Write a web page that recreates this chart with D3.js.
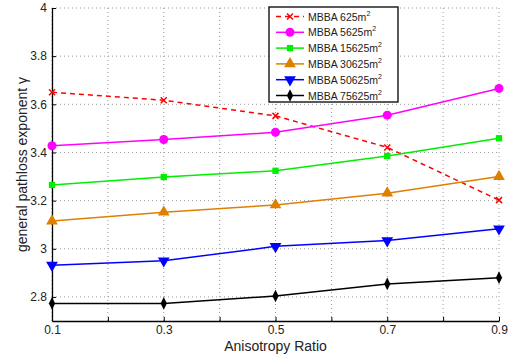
<!DOCTYPE html>
<html>
<head>
<meta charset="utf-8">
<script src="https://cdn.jsdelivr.net/npm/d3@7"></script>
<style>
  body { margin: 0; background: #fff; }
  text { font-family: "Liberation Sans", Arial, sans-serif; fill: #222; }
</style>
</head>
<body>
<div id="chart"></div>
<script>
// data
var ratios = [0.1, 0.3, 0.5, 0.7, 0.9];
var names = ["MBBA 625", "MBBA 5625", "MBBA 15625", "MBBA 30625", "MBBA 50625", "MBBA 75625"];
var mbba625 = [3.65, 3.617, 3.552, 3.421, 3.202];
var mbba5625 = [3.428, 3.454, 3.484, 3.555, 3.666];
var mbba15625 = [3.265, 3.298, 3.324, 3.385, 3.459];
var mbba30625 = [3.115, 3.152, 3.182, 3.231, 3.300];
var mbba50625 = [2.932, 2.950, 3.010, 3.034, 3.083];
var mbba75625 = [2.773, 2.773, 2.804, 2.854, 2.880];
var xTicks = [0.1, 0.3, 0.5, 0.7, 0.9];
var yTicks = [2.8, 3, 3.2, 3.4, 3.6, 3.8, 4];

var seriesList = [mbba625, mbba5625, mbba15625, mbba30625, mbba50625, mbba75625];
var colors = ["#ff0000", "#ff00ff", "#00ee00", "#dd8000", "#0000ff", "#000000"];
var shapes = ["x", "circle", "square", "up", "down", "diamond"];

var svgWidth = 512, svgHeight = 358;
var margin = {top: 8, right: 13, bottom: 37, left: 52};
var width = svgWidth - margin.left - margin.right;
var height = svgHeight - margin.top - margin.bottom;

var svg = d3.select("#chart").append("svg")
  .attr("width", svgWidth)
  .attr("height", svgHeight);

var chartGroup = svg.append("g")
  .attr("transform", `translate(${margin.left}, ${margin.top})`);

var xScale = d3.scaleLinear().domain([0.1, 0.9]).range([0, width]);
var yScale = d3.scaleLinear().domain([2.7, 4]).range([height, 0]);

// dotted grid
var gridX = d3.range(1, 10).map(d => d / 10);
chartGroup.selectAll(".gx").data(gridX).enter().append("line")
  .attr("x1", d => xScale(d)).attr("x2", d => xScale(d))
  .attr("y1", 0).attr("y2", height)
  .attr("stroke", "#999").attr("stroke-width", 1).attr("stroke-dasharray", "1,3");
chartGroup.selectAll(".gy").data(yTicks).enter().append("line")
  .attr("x1", 0).attr("x2", width)
  .attr("y1", d => yScale(d)).attr("y2", d => yScale(d))
  .attr("stroke", "#999").attr("stroke-width", 1).attr("stroke-dasharray", "1,3");

// axes
var bottomAxis = d3.axisBottom(xScale).tickValues(gridX).tickSizeInner(-4).tickSizeOuter(0)
  .tickPadding(4).tickFormat(d => xTicks.some(t => Math.abs(t - d) < 1e-9) ? d3.format(".1f")(d) : "");
var leftAxis = d3.axisLeft(yScale).tickValues(yTicks).tickSizeInner(-4).tickSizeOuter(0)
  .tickPadding(5).tickFormat(d => d3.format("")(+d.toFixed(1)));

var gx = chartGroup.append("g").attr("transform", `translate(0, ${height})`).call(bottomAxis);
var gy = chartGroup.append("g").call(leftAxis);
gx.selectAll(".tick text").filter(function() { return this.textContent === ""; }).remove();
[gx, gy].forEach(function(g) {
  g.select(".domain").attr("stroke", "#000").attr("stroke-width", 1.3);
  g.selectAll(".tick line").attr("stroke", "#000");
  g.selectAll("text").attr("font-size", "12px").attr("fill", "#222")
    .attr("font-family", "Liberation Sans, Arial, sans-serif");
});

// lines
var line = d3.line().x((d, i) => xScale(ratios[i])).y(d => yScale(d));

function marker(sel, shape, color) {
  if (shape === "x") {
    sel.append("path").attr("d", "M-3,-3L3,3M-3,3L3,-3")
      .attr("stroke", color).attr("stroke-width", 1.5).attr("fill", "none");
  } else if (shape === "circle") {
    sel.append("circle").attr("r", 4.5).attr("fill", color);
  } else {
    var sym = {square: d3.symbolSquare, up: d3.symbolTriangle, down: d3.symbolTriangle, diamond: d3.symbolDiamond}[shape];
    var size = {square: 40, up: 60, down: 60, diamond: 38}[shape];
    sel.append("path").attr("d", d3.symbol().type(sym).size(size)())
      .attr("transform", shape === "down" ? "rotate(180)" : (shape === "diamond" ? "scale(0.95,1.1)" : null))
      .attr("fill", color);
  }
}

seriesList.forEach(function(vals, s) {
  chartGroup.append("path").datum(vals)
    .attr("d", line)
    .attr("fill", "none")
    .attr("stroke", colors[s])
    .attr("stroke-width", 1.5)
    .attr("stroke-dasharray", s === 0 ? "5,4" : null);
  vals.forEach(function(v, i) {
    var g = chartGroup.append("g")
      .attr("transform", `translate(${xScale(ratios[i])}, ${yScale(v)})`);
    marker(g, shapes[s], colors[s]);
  });
});

// axis titles
svg.append("text")
  .attr("x", margin.left + width / 2)
  .attr("y", 351)
  .attr("text-anchor", "middle")
  .attr("font-size", "14px")
  .text("Anisotropy Ratio");

svg.append("text")
  .attr("transform", `translate(27, ${margin.top + height / 2}) rotate(-90)`)
  .attr("text-anchor", "middle")
  .attr("font-size", "14px")
  .text("general pathloss exponent γ");

// legend
var legend = svg.append("g").attr("transform", "translate(269, 7)");
legend.append("rect")
  .attr("width", 129).attr("height", 95)
  .attr("fill", "#fff").attr("stroke", "#000").attr("stroke-width", 1.3);

names.forEach(function(name, s) {
  var row = legend.append("g").attr("transform", `translate(0, ${9.5 + s * 15.8})`);
  row.append("line")
    .attr("x1", 7).attr("x2", 35)
    .attr("stroke", colors[s]).attr("stroke-width", 1.5)
    .attr("stroke-dasharray", s === 0 ? "5,4" : null);
  var m = row.append("g").attr("transform", "translate(21, 0)");
  marker(m, shapes[s], colors[s]);
  var t = row.append("text")
    .attr("x", 39).attr("y", 4)
    .attr("font-size", "10.5px");
  t.append("tspan").text(name + "m");
  t.append("tspan").attr("dy", -5).attr("font-size", "7px").text("2");
});
</script>
</body>
</html>
